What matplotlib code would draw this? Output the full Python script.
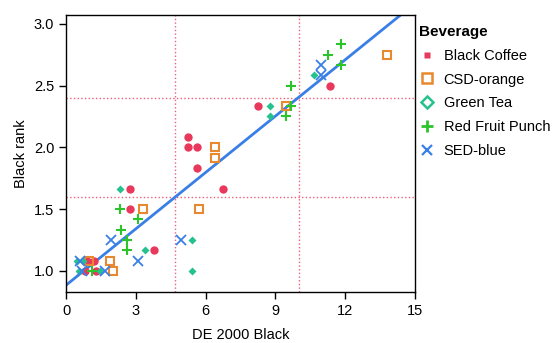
import numpy as np
import matplotlib.pyplot as plt
from matplotlib.lines import Line2D

plt.rcParams['font.family'] = ['Liberation Sans', 'DejaVu Sans']

# data (DE 2000 Black vs Black rank)
coffee_x = [5.25, 5.25, 5.61, 8.24, 11.36, 5.61, 2.76, 6.76, 2.76, 3.80, 0.9, 1.2, 0.8, 1.3]
coffee_y = [2.083, 2.0, 2.0, 2.333, 2.5, 1.833, 1.667, 1.667, 1.5, 1.167, 1.083, 1.083, 1.0, 1.0]

csd_x = [6.40, 6.40, 9.47, 13.8, 3.30, 5.73, 1.87, 2.04, 1.0]
csd_y = [2.0, 1.917, 2.333, 2.75, 1.5, 1.5, 1.083, 1.0, 1.083]

tea_x = [8.76, 8.76, 10.66, 2.30, 3.40, 5.43, 5.43, 0.47, 0.73, 0.54, 1.47]
tea_y = [2.333, 2.25, 2.583, 1.667, 1.167, 1.25, 1.0, 1.083, 1.083, 1.0, 1.0]

punch_x = [11.83, 11.26, 11.83, 9.69, 9.69, 9.44, 2.30, 3.09, 2.37, 2.61, 2.61, 1.1]
punch_y = [2.833, 2.75, 2.667, 2.5, 2.333, 2.25, 1.5, 1.417, 1.333, 1.25, 1.167, 1.0]

sed_x = [10.97, 10.97, 1.94, 4.93, 3.09, 0.6, 1.68, 0.7]
sed_y = [2.667, 2.583, 1.25, 1.25, 1.083, 1.083, 1.0, 1.0]

# fitted line and reference lines
fit_intercept = 0.885
fit_slope = 0.152
ref_x = [4.7, 10.0]
ref_y = [1.6, 2.4]

c_red = '#E8385B'
c_orange = '#E8892F'
c_tea = '#25C28E'
c_punch = '#2BC42B'
c_blue = '#3A7FE6'

fig = plt.figure(figsize=(5.53, 3.43), dpi=100)
ax = fig.add_axes([0.1194, 0.1487, 0.6311, 0.8073])

for xv in ref_x:
    ax.axvline(xv, color=c_red, ls=':', lw=1, alpha=0.8, zorder=1)
for yv in ref_y:
    ax.axhline(yv, color=c_red, ls=':', lw=1, alpha=0.8, zorder=1)

xs = np.array([0, 15])
ax.plot(xs, fit_intercept + fit_slope * xs, color=c_blue, lw=2, zorder=2)

ax.plot(coffee_x, coffee_y, 'o', color=c_red, ms=6, mec='none', zorder=3)
ax.plot(csd_x, csd_y, 's', mfc='none', mec=c_orange, mew=1.5, ms=6, zorder=3)
ax.plot(tea_x, tea_y, 'D', color=c_tea, ms=4, mec='none', zorder=3)
ax.plot(punch_x, punch_y, '+', color=c_punch, ms=7, mew=1.5, zorder=3)
ax.plot(sed_x, sed_y, 'x', color=c_blue, ms=7, mew=1.3, zorder=3)

ax.set_xlim(0, 15)
ax.set_ylim(0.83, 3.07)
ax.set_xticks([0, 3, 6, 9, 12, 15])
ax.set_yticks([1.0, 1.5, 2.0, 2.5, 3.0])
ax.set_yticklabels(['1.0', '1.5', '2.0', '2.5', '3.0'])
ax.tick_params(direction='out', length=5, width=1, labelsize=10.5, colors='black')
for s in ax.spines.values():
    s.set_linewidth(1)
    s.set_color('black')
ax.set_xlabel('DE 2000 Black', fontsize=10.5, labelpad=7)
ax.set_ylabel('Black rank', fontsize=10.5, labelpad=4)

handles = [
    Line2D([], [], ls='none', marker='s', color=c_red, ms=4, mec='none'),
    Line2D([], [], ls='none', marker='s', mfc='none', mec=c_orange, mew=1.8, ms=7),
    Line2D([], [], ls='none', marker='D', mfc='none', mec=c_tea, mew=1.8, ms=6),
    Line2D([], [], ls='none', marker='+', color=c_punch, mew=2, ms=9),
    Line2D([], [], ls='none', marker='x', color=c_blue, mew=1.6, ms=7),
]
labels = ['Black Coffee', 'CSD-orange', 'Green Tea', 'Red Fruit Punch', 'SED-blue']
leg = fig.legend(handles, labels, title='Beverage', loc='upper left',
                 bbox_to_anchor=(0.748, 0.945), frameon=False, fontsize=10.5,
                 title_fontsize=11, handlelength=1.1, handletextpad=0.55,
                 labelspacing=0.68, borderaxespad=0)
leg.get_title().set_fontweight('bold')
leg._legend_box.align = 'left'

fig.savefig('out.png', dpi=100)
